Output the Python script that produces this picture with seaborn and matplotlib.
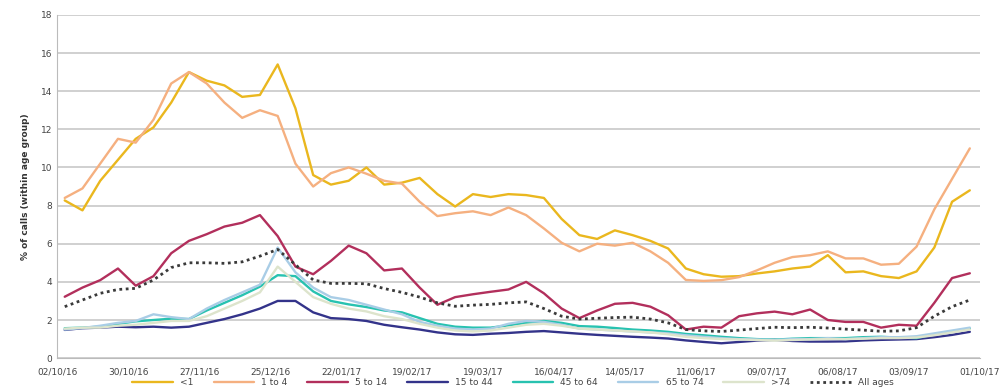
import pandas as pd
import numpy as np
import seaborn as sns
import matplotlib.pyplot as plt
import matplotlib.dates as mdates

# weekly points, first one on 05/10/16
dates = pd.date_range('2016-10-05', periods=52, freq='7D')

under_1 = [8.27, 7.75, 9.3, 10.4, 11.5, 12.1, 13.4, 15.0, 14.55, 14.3,
           13.7, 13.8, 15.4, 13.1, 9.6, 9.1, 9.3, 10.0, 9.1, 9.2,
           9.45, 8.6, 7.95, 8.6, 8.45, 8.6, 8.55, 8.4, 7.3, 6.45,
           6.25, 6.7, 6.45, 6.15, 5.75, 4.7, 4.4, 4.27, 4.3, 4.44,
           4.55, 4.7, 4.8, 5.4, 4.5, 4.55, 4.3, 4.2, 4.55, 5.8,
           8.2, 8.8]
age_1_4 = [8.4, 8.9, 10.2, 11.5, 11.3, 12.5, 14.4, 15.0, 14.4, 13.4,
           12.6, 13.0, 12.7, 10.2, 9.0, 9.7, 10.0, 9.67, 9.3, 9.15,
           8.2, 7.45, 7.6, 7.7, 7.5, 7.9, 7.5, 6.8, 6.05, 5.6,
           6.0, 5.9, 6.05, 5.6, 5.0, 4.1, 4.05, 4.09, 4.25, 4.6,
           5.0, 5.3, 5.4, 5.6, 5.23, 5.23, 4.9, 4.95, 5.85, 7.8,
           9.4, 11.0]
age_5_14 = [3.22, 3.7, 4.09, 4.7, 3.8, 4.3, 5.5, 6.15, 6.5, 6.9,
            7.1, 7.5, 6.4, 4.8, 4.4, 5.1, 5.9, 5.5, 4.6, 4.7,
            3.7, 2.8, 3.2, 3.35, 3.48, 3.6, 4.0, 3.4, 2.6, 2.1,
            2.5, 2.85, 2.9, 2.7, 2.25, 1.5, 1.65, 1.6, 2.2, 2.35,
            2.44, 2.3, 2.55, 2.0, 1.9, 1.9, 1.6, 1.75, 1.7, 2.9,
            4.2, 4.45]
age_15_44 = [1.48, 1.57, 1.6, 1.65, 1.62, 1.65, 1.6, 1.65, 1.85, 2.05,
             2.3, 2.6, 3.0, 3.0, 2.4, 2.1, 2.05, 1.95, 1.75, 1.62,
             1.5, 1.35, 1.25, 1.22, 1.28, 1.32, 1.38, 1.42, 1.35, 1.28,
             1.22, 1.17, 1.12, 1.08, 1.03, 0.93, 0.85, 0.78, 0.85, 0.92,
             0.96, 0.9, 0.87, 0.87, 0.88, 0.93, 0.96, 0.98, 1.0, 1.1,
             1.22, 1.38]
age_45_64 = [1.57, 1.6, 1.65, 1.8, 1.93, 2.0, 2.07, 2.05, 2.5, 2.9,
             3.3, 3.75, 4.35, 4.3, 3.5, 3.0, 2.82, 2.68, 2.5, 2.4,
             2.1, 1.8, 1.65, 1.6, 1.6, 1.72, 1.85, 1.95, 1.85, 1.68,
             1.65, 1.58, 1.5, 1.45, 1.38, 1.27, 1.2, 1.12, 1.05, 1.0,
             0.97, 1.02, 1.05, 1.05, 1.05, 1.1, 1.12, 1.08, 1.05, 1.25,
             1.38, 1.55]
age_65_74 = [1.5, 1.58, 1.7, 1.85, 1.95, 2.3, 2.15, 2.05, 2.6, 3.05,
             3.45, 3.85, 5.8, 4.5, 3.7, 3.2, 3.05, 2.8, 2.55, 2.3,
             1.9, 1.7, 1.55, 1.5, 1.55, 1.8, 1.95, 1.9, 1.75, 1.55,
             1.5, 1.45, 1.4, 1.35, 1.3, 1.2, 1.12, 1.05, 1.0, 0.98,
             0.95, 1.0, 1.0, 1.05, 1.0, 1.05, 1.1, 1.1, 1.15, 1.3,
             1.45, 1.6]
over_74 = [1.55, 1.6, 1.6, 1.7, 1.75, 1.85, 1.95, 1.95, 2.2, 2.6,
           3.0, 3.45, 4.8, 4.0, 3.2, 2.85, 2.6, 2.45, 2.2, 2.05,
           1.8, 1.6, 1.45, 1.4, 1.45, 1.6, 1.75, 1.8, 1.7, 1.55,
           1.5, 1.45, 1.4, 1.35, 1.25, 1.12, 1.05, 1.0, 0.98, 0.95,
           0.92, 0.95, 0.98, 1.0, 1.0, 1.02, 1.05, 1.05, 1.08, 1.2,
           1.35, 1.5]
all_ages = [2.7, 3.05, 3.4, 3.6, 3.66, 4.1, 4.75, 5.0, 5.0, 4.97,
            5.05, 5.35, 5.7, 4.9, 4.1, 3.92, 3.92, 3.9, 3.65, 3.45,
            3.2, 2.9, 2.72, 2.78, 2.82, 2.9, 2.95, 2.6, 2.2, 2.05,
            2.09, 2.13, 2.15, 2.05, 1.85, 1.5, 1.43, 1.4, 1.47, 1.55,
            1.62, 1.6, 1.62, 1.58, 1.52, 1.47, 1.41, 1.43, 1.6, 2.2,
            2.7, 3.05]

series = [
    ('<1', under_1, '#eab71e'),
    ('1 to 4', age_1_4, '#f5b080'),
    ('5 to 14', age_5_14, '#b22f5c'),
    ('15 to 44', age_15_44, '#33338a'),
    ('45 to 64', age_45_64, '#28c2b0'),
    ('65 to 74', age_65_74, '#a9cde6'),
    ('>74', over_74, '#dde4cc'),
]

sns.set_style("white")
fig = plt.figure(figsize=(10.02, 3.91), dpi=100)
ax = fig.add_axes([0.057, 0.084, 0.921, 0.878])

for name, vals, col in series:
    sns.lineplot(x=dates, y=vals, ax=ax, color=col, linewidth=1.7, label=name)
sns.lineplot(x=dates, y=all_ages, ax=ax, color='#3a3a3a', linewidth=2.0,
             linestyle=(0, (1, 1.3)), label='All ages')

ax.set_ylim(0, 18)
ax.set_yticks(range(0, 19, 2))
ax.set_xlim(pd.Timestamp('2016-10-02'), pd.Timestamp('2017-10-01'))
ax.set_xticks(pd.date_range('2016-10-02', '2017-10-01', freq='28D'))
ax.xaxis.set_major_formatter(mdates.DateFormatter('%d/%m/%y'))
ax.yaxis.grid(True, color='#c8c8c8', linewidth=1.2)
ax.tick_params(axis='both', labelsize=6.5, colors='#444444', length=3)
ax.tick_params(axis='y', length=0)
for s in ['top', 'right']:
    ax.spines[s].set_visible(False)
for s in ['left', 'bottom']:
    ax.spines[s].set_color('#bbbbbb')
ax.set_xlabel('')
ax.set_ylabel('% of calls (within age group)', fontsize=6.5, fontweight='bold',
              color='#333333', labelpad=8)

ax.get_legend().remove()
handles, labels = ax.get_legend_handles_labels()
fig.legend(handles, labels, loc='lower center', bbox_to_anchor=(0.512, -0.01),
           ncol=8, frameon=False, fontsize=6.5, handlelength=4.5,
           columnspacing=2.2, labelcolor='#444444')

fig.savefig('out.png', dpi=100)
